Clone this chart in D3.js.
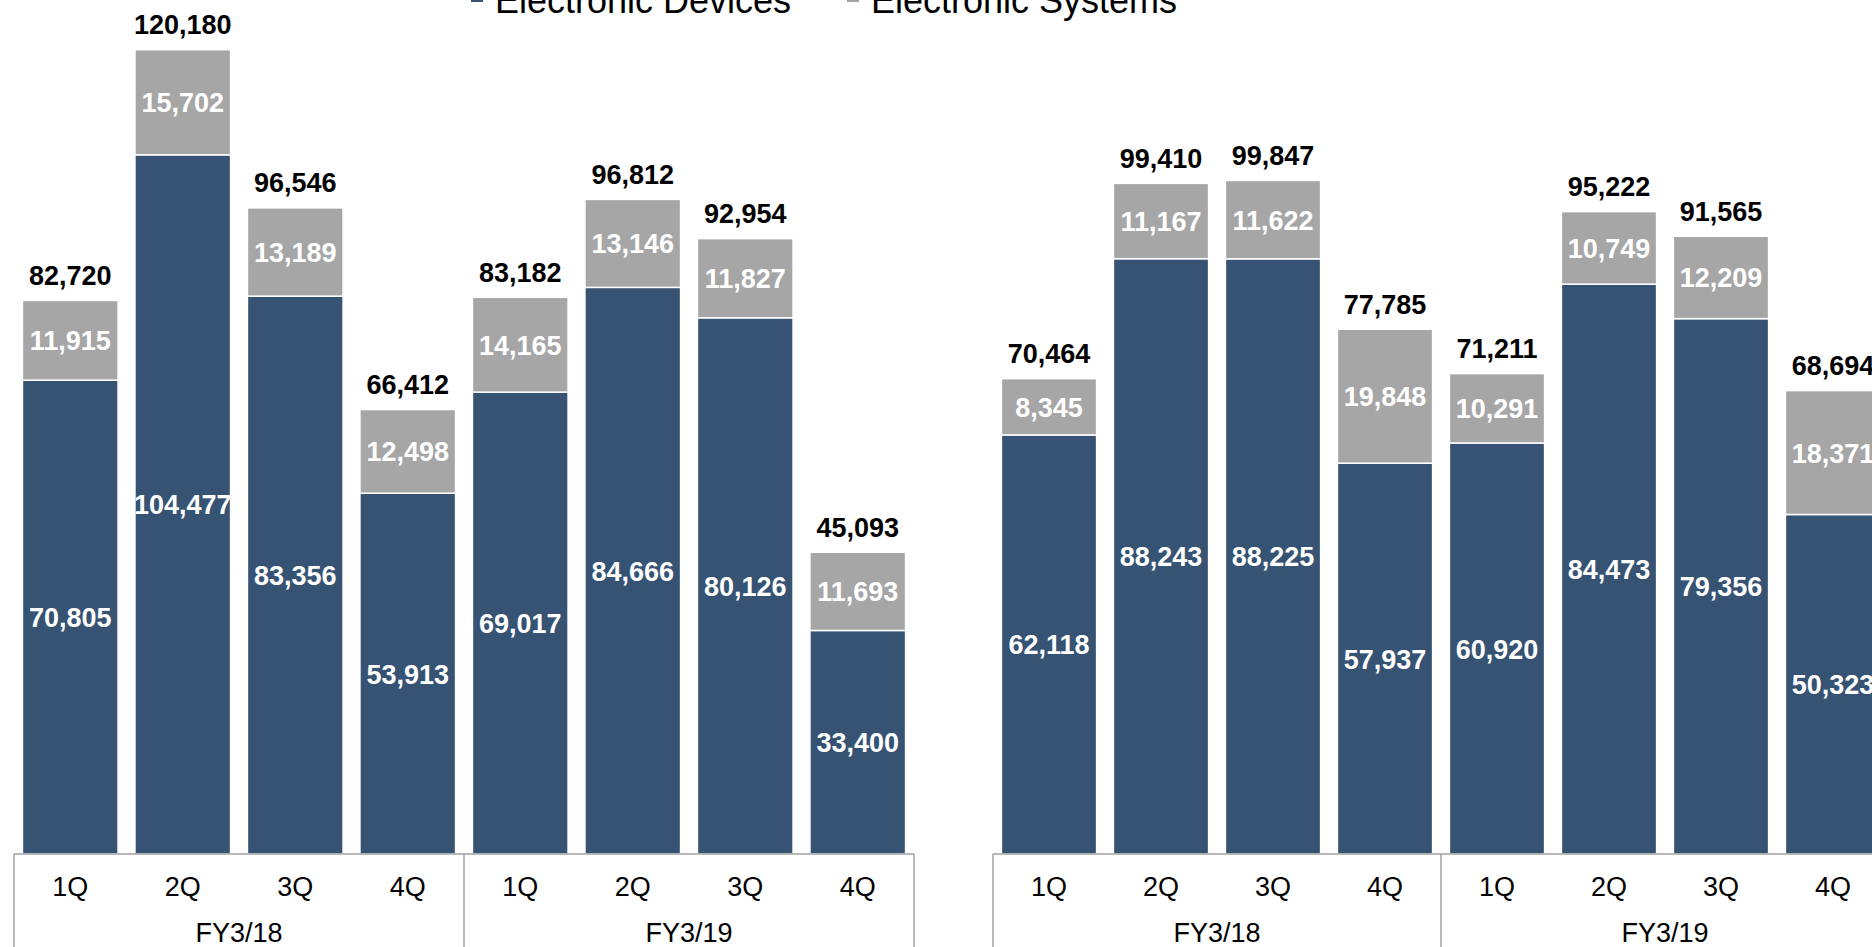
<!DOCTYPE html>
<html lang="en">
<head>
    <meta charset="UTF-8">
    <title>Electronic Devices / Electronic Systems by quarter</title>
    <style>
        body {
            margin: 0;
            padding: 0;
            background-color: #ffffff;
            font-family: "Liberation Sans", Arial, sans-serif;
        }

        #chart {
            width: 1872px;
            height: 947px;
            display: block;
            overflow: hidden;
        }
    </style>
</head>
<body>

<div id="chart"></div>

<script src="https://d3js.org/d3.v7.min.js"></script>
<script>
    // Category labels
    const quarters = ["1Q", "2Q", "3Q", "4Q"];
    const years = ["FY3/18", "FY3/19"];
    const legendLabels = ["Electronic Devices", "Electronic Systems"];

    // Left chart values
    const leftDevices = [70805, 104477, 83356, 53913, 69017, 84666, 80126, 33400];
    const leftSystems = [11915, 15702, 13189, 12498, 14165, 13146, 11827, 11693];
    const leftTotals = [82720, 120180, 96546, 66412, 83182, 96812, 92954, 45093];

    // Right chart values
    const rightDevices = [62118, 88243, 88225, 57937, 60920, 84473, 79356, 50323];
    const rightSystems = [8345, 11167, 11622, 19848, 10291, 10749, 12209, 18371];
    const rightTotals = [70464, 99410, 99847, 77785, 71211, 95222, 91565, 68694];

    const width = 1872,
          height = 947,
          baseY = 854;

    const colors = { devices: "#365374", systems: "#a6a6a6" };
    const boxColor = "#a0a0a0";

    const svg = d3.select("#chart").append("svg")
        .attr("width", width)
        .attr("height", height);

    const fmt = d3.format(",");

    // one panel = 8 stacked bars + boxed category axis
    function drawPanel(devices, systems, totals, x0, x1, yTop) {
        const cats = [];
        years.forEach(yr => quarters.forEach(q => cats.push(yr + "|" + q)));

        const rows = cats.map((c, i) => ({
            cat: c, devices: devices[i], systems: systems[i], total: totals[i]
        }));

        const x = d3.scaleBand()
            .domain(cats)
            .range([x0, x1])
            .paddingInner(0.15)
            .paddingOuter(0.075);

        const y = d3.scaleLinear()
            .domain([0, 130000])
            .range([baseY, yTop]);

        const series = d3.stack().keys(["devices", "systems"])(rows);

        const g = svg.append("g");

        const layer = g.selectAll("g.layer")
            .data(series)
            .enter().append("g")
            .attr("class", "layer")
            .attr("fill", d => colors[d.key]);

        layer.selectAll("rect")
            .data(d => d)
            .enter().append("rect")
            .attr("x", d => x(d.data.cat))
            .attr("width", x.bandwidth())
            .attr("y", d => y(d[1]))
            .attr("height", d => y(d[0]) - y(d[1]))
            .attr("stroke", "#ffffff")
            .attr("stroke-width", 1.5);

        // segment labels
        layer.selectAll("text")
            .data(d => d)
            .enter().append("text")
            .attr("x", d => x(d.data.cat) + x.bandwidth() / 2)
            .attr("y", d => (y(d[0]) + y(d[1])) / 2 + 10)
            .attr("text-anchor", "middle")
            .style("font-size", "27px")
            .style("font-weight", "bold")
            .style("fill", "#ffffff")
            .text(function (d) {
                const key = d3.select(this.parentNode).datum().key;
                return fmt(d.data[key]);
            });

        // totals on top
        g.selectAll("text.total")
            .data(series[1])
            .enter().append("text")
            .attr("class", "total")
            .attr("x", d => x(d.data.cat) + x.bandwidth() / 2)
            .attr("y", d => y(d[1]) - 15.5)
            .attr("text-anchor", "middle")
            .style("font-size", "27px")
            .style("font-weight", "bold")
            .style("fill", "#000000")
            .text(d => fmt(d.data.total));

        // category box
        const mid = (x0 + x1) / 2;
        g.append("line")
            .attr("x1", x0).attr("x2", x1)
            .attr("y1", baseY).attr("y2", baseY)
            .attr("stroke", boxColor).attr("stroke-width", 1.5);

        [x0, mid, x1].forEach(px => {
            g.append("line")
                .attr("x1", px).attr("x2", px)
                .attr("y1", baseY).attr("y2", height)
                .attr("stroke", boxColor).attr("stroke-width", 1.5);
        });

        g.selectAll("text.q")
            .data(cats)
            .enter().append("text")
            .attr("class", "q")
            .attr("x", d => x(d) + x.bandwidth() / 2)
            .attr("y", 896)
            .attr("text-anchor", "middle")
            .style("font-size", "27px")
            .style("fill", "#000000")
            .text(d => d.split("|")[1]);

        const yearX = d3.scaleBand().domain(years).range([x0, x1]);
        g.selectAll("text.yr")
            .data(years)
            .enter().append("text")
            .attr("class", "yr")
            .attr("x", d => yearX(d) + yearX.bandwidth() / 2)
            .attr("y", 942)
            .attr("text-anchor", "middle")
            .style("font-size", "27px")
            .style("fill", "#000000")
            .text(d => d);
    }

    drawPanel(leftDevices, leftSystems, leftTotals, 14, 914, -16);
    drawPanel(rightDevices, rightSystems, rightTotals, 993, 1889, -23);

    // legend (cut off at top edge)
    const legend = svg.append("g");
    const legendX = [471, 847];
    legendLabels.forEach((lbl, i) => {
        legend.append("rect")
            .attr("x", legendX[i])
            .attr("y", -10)
            .attr("width", 12)
            .attr("height", 12)
            .attr("fill", i === 0 ? colors.devices : colors.systems);
        legend.append("text")
            .attr("x", legendX[i] + 24)
            .attr("y", 13)
            .style("font-size", "36px")
            .style("fill", "#000000")
            .text(lbl);
    });
</script>

</body>
</html>
